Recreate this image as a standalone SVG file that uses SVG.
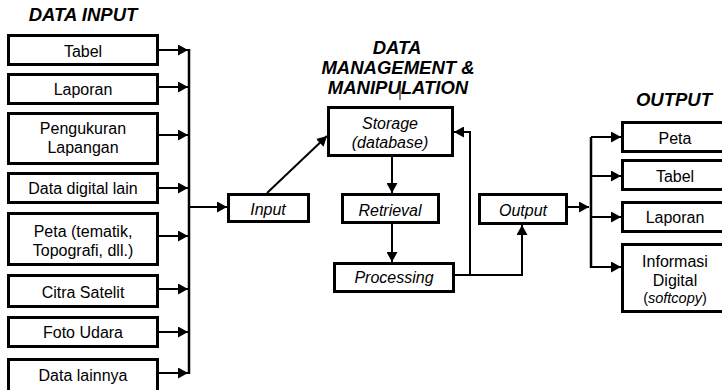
<svg xmlns="http://www.w3.org/2000/svg" width="722" height="390" viewBox="0 0 722 390">
<style>
.box{fill:#fff;stroke:#000;stroke-width:3}
.ln{fill:none;stroke:#000;stroke-width:2}
.bus{fill:none;stroke:#000;stroke-width:2.5}
.t{font-family:"Liberation Sans",Arial,sans-serif;font-size:16px;fill:#000;text-anchor:middle}
.i{font-style:italic}
.h{font-family:"Liberation Sans",Arial,sans-serif;font-size:18.5px;font-weight:bold;font-style:italic;fill:#000;text-anchor:middle}
</style>
<defs>
<marker id="ah" markerWidth="10" markerHeight="11" refX="10" refY="5.5" orient="auto" markerUnits="userSpaceOnUse"><path d="M0,0 L10,5.5 L0,11 z" fill="#000"/></marker>
<clipPath id="pc"><rect x="333" y="262" width="122" height="24"/></clipPath>
</defs>

<text class="h" x="83" y="21">DATA INPUT</text>
<text class="h" x="397" y="54">DATA</text>
<text class="h" x="398" y="74">MANAGEMENT &amp;</text>
<text class="h" x="398" y="94">MANIPULATION</text>
<line x1="400" y1="83" x2="400" y2="100" stroke="#000" stroke-width="1"/>
<text class="h" x="674" y="106">OUTPUT</text>

<g id="in-tabel"><rect class="box" x="8.5" y="35.5" width="149" height="29"/><text class="t" x="83" y="57">Tabel</text></g>
<g id="in-laporan"><rect class="box" x="8.5" y="74.5" width="149" height="29"/><text class="t" x="83" y="95">Laporan</text></g>
<g id="in-pengukuran"><rect class="box" x="8.5" y="113.5" width="149" height="50"/><text class="t" x="83" y="134">Pengukuran</text><text class="t" x="83" y="153">Lapangan</text></g>
<g id="in-digital"><rect class="box" x="8.5" y="173.5" width="149" height="29"/><text class="t" x="83" y="194">Data digital lain</text></g>
<g id="in-peta"><rect class="box" x="8.5" y="213.5" width="149" height="51"/><text class="t" x="83" y="237">Peta (tematik,</text><text class="t" x="83" y="256">Topografi, dll.)</text></g>
<g id="in-citra"><rect class="box" x="8.5" y="275.5" width="149" height="31"/><text class="t" x="83" y="298">Citra Satelit</text></g>
<g id="in-foto"><rect class="box" x="8.5" y="317.5" width="149" height="29"/><text class="t" x="83" y="338">Foto Udara</text></g>
<g id="in-lainnya"><rect class="box" x="8.5" y="359.5" width="149" height="40"/><text class="t" x="83" y="381">Data lainnya</text></g>

<g id="input"><rect class="box" x="228.5" y="194.5" width="80" height="27"/><text class="t i" x="268" y="215">Input</text></g>
<g id="storage"><rect class="box" x="328.5" y="107.5" width="124" height="48"/><text class="t i" x="390" y="129">Storage</text><text class="t i" x="390" y="148">(database)</text></g>
<g id="retrieval"><rect class="box" x="342.5" y="194.5" width="96" height="28"/><text class="t i" x="390" y="216">Retrieval</text></g>
<g id="processing"><rect class="box" x="334.5" y="263.5" width="119" height="28"/><text class="t i" x="394" y="283" clip-path="url(#pc)">Processing</text></g>
<g id="output"><rect class="box" x="479.5" y="194.5" width="87" height="29"/><text class="t i" x="523" y="216">Output</text></g>

<g id="out-peta"><rect class="box" x="622.5" y="122.5" width="110" height="29"/><text class="t" x="675" y="144">Peta</text></g>
<g id="out-tabel"><rect class="box" x="622.5" y="160.5" width="110" height="29"/><text class="t" x="675" y="182">Tabel</text></g>
<g id="out-laporan"><rect class="box" x="622.5" y="202.5" width="110" height="29"/><text class="t" x="675" y="223">Laporan</text></g>
<g id="out-digital"><rect class="box" x="622.5" y="244.5" width="110" height="67"/><text class="t" x="675" y="267">Informasi</text><text class="t" x="675" y="286">Digital</text><text class="t" x="675" y="303" style="font-size:14.5px">(<tspan class="i">softcopy</tspan>)</text></g>

<g id="connectors">
<path class="bus" d="M189,49 V374"/>
<path class="ln" d="M158,50 H188" marker-end="url(#ah)"/>
<path class="ln" d="M158,87 H188" marker-end="url(#ah)"/>
<path class="ln" d="M158,135 H188" marker-end="url(#ah)"/>
<path class="ln" d="M158,188 H188" marker-end="url(#ah)"/>
<path class="ln" d="M158,236 H188" marker-end="url(#ah)"/>
<path class="ln" d="M158,289 H188" marker-end="url(#ah)"/>
<path class="ln" d="M158,332 H188" marker-end="url(#ah)"/>
<path class="ln" d="M158,373 H188" marker-end="url(#ah)"/>
<path class="ln" d="M189,207 H227" marker-end="url(#ah)"/>
<path class="ln" d="M267,193 L327,136" marker-end="url(#ah)"/>
<path class="ln" d="M392,157 V193" marker-end="url(#ah)"/>
<path class="ln" d="M392,224 V262" marker-end="url(#ah)"/>
<path class="ln" d="M455,275 H522 V225" marker-end="url(#ah)"/>
<path class="ln" d="M470,275 V132 H454" marker-end="url(#ah)"/>
<path class="ln" d="M568,207 H589" marker-end="url(#ah)"/>
<path class="bus" d="M591,137 V268"/>
<path class="ln" d="M591,137 H621" marker-end="url(#ah)"/>
<path class="ln" d="M591,176 H621" marker-end="url(#ah)"/>
<path class="ln" d="M591,217 H621" marker-end="url(#ah)"/>
<path class="ln" d="M591,267 H621" marker-end="url(#ah)"/>
</g>
</svg>
